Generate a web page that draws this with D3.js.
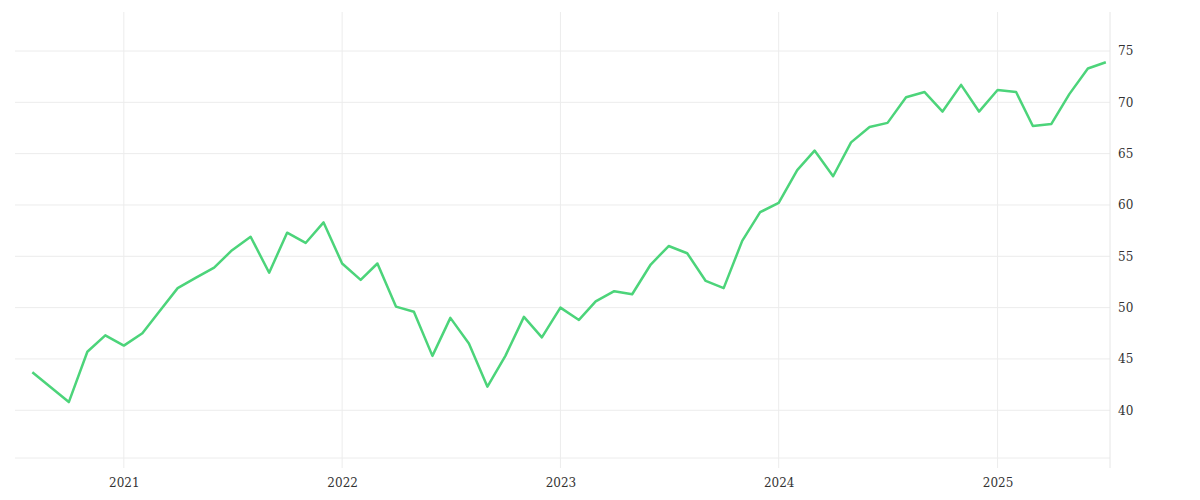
<!DOCTYPE html>
<html>
<head>
<meta charset="utf-8">
<script src="https://cdn.jsdelivr.net/npm/d3@7"></script>
<style>
  body { margin: 0; background: #fff; }
  .axis text { font-family: "DejaVu Serif", serif; font-size: 12px; fill: #333; }
</style>
</head>
<body>
<div id="viz"></div>
<script>
// monthly values, Aug 2020 .. Jul 2025 (Sep 2020 missing)
var dates = ['2020-08','2020-10','2020-11','2020-12',
  '2021-01','2021-02','2021-03','2021-04','2021-05','2021-06','2021-07','2021-08','2021-09','2021-10','2021-11','2021-12',
  '2022-01','2022-02','2022-03','2022-04','2022-05','2022-06','2022-07','2022-08','2022-09','2022-10','2022-11','2022-12',
  '2023-01','2023-02','2023-03','2023-04','2023-05','2023-06','2023-07','2023-08','2023-09','2023-10','2023-11','2023-12',
  '2024-01','2024-02','2024-03','2024-04','2024-05','2024-06','2024-07','2024-08','2024-09','2024-10','2024-11','2024-12',
  '2025-01','2025-02','2025-03','2025-04','2025-05','2025-06','2025-07'];
var values = [43.7,40.8,45.7,47.3,
  46.3,47.5,49.6,51.9,52.9,53.9,55.6,56.9,53.4,57.3,56.3,58.3,
  54.3,52.7,54.3,50.1,49.6,45.3,49.0,46.5,42.3,45.3,49.1,47.1,
  50.0,48.8,50.6,51.6,51.3,54.2,56.0,55.3,52.6,51.9,56.5,59.3,
  60.2,63.4,65.3,62.8,66.1,67.6,68.0,70.5,71.0,69.1,71.7,69.1,
  71.2,71.0,67.7,67.9,70.8,73.3,73.9];
var yTicks = [40,45,50,55,60,65,70,75];
var xTicks = ['2021','2022','2023','2024','2025'];

var parse = d3.timeParse('%Y-%m');
var data = dates.map(function (d, i) { return {date: parse(d), value: values[i]}; });

var svg = d3.select('#viz').append('svg')
  .attr('width', 1200).attr('height', 500);

var x = d3.scaleTime()
  .domain([new Date(2020, 6, 3), new Date(2025, 6, 8)])
  .range([15, 1110]);
var y = d3.scaleLinear().domain([35.35, 78.8]).range([458, 12]);

// grid
svg.append('g').selectAll('line.h')
  .data(yTicks.concat([35.35]))
  .enter().append('line')
  .attr('x1', 15).attr('x2', 1110)
  .attr('y1', function (d) { return y(d); }).attr('y2', function (d) { return y(d); })
  .attr('stroke', '#ececec');
svg.append('g').selectAll('line.v')
  .data(xTicks)
  .enter().append('line')
  .attr('x1', function (d) { return x(new Date(+d, 0, 1)); })
  .attr('x2', function (d) { return x(new Date(+d, 0, 1)); })
  .attr('y1', 12).attr('y2', 468)
  .attr('stroke', '#ececec');

// right axis
svg.append('g')
  .attr('class', 'axis')
  .attr('transform', 'translate(1110,0)')
  .call(d3.axisRight(y).tickValues(yTicks).tickSize(0).tickPadding(8))
  .call(function (g) { g.select('.domain').attr('stroke', '#e6e6e6').attr('d', 'M0,12V468'); });

// bottom axis
svg.append('g')
  .attr('class', 'axis')
  .attr('transform', 'translate(0,468)')
  .call(d3.axisBottom(x)
    .tickValues(xTicks.map(function (d) { return new Date(+d, 0, 1); }))
    .tickFormat(d3.timeFormat('%Y')).tickSize(0).tickPadding(10))
  .call(function (g) { g.select('.domain').remove(); });

svg.append('path')
  .datum(data)
  .attr('fill', 'none')
  .attr('stroke', '#4cd47a')
  .attr('stroke-width', 2.5)
  .attr('stroke-linejoin', 'round')
  .attr('d', d3.line()
    .x(function (d) { return x(d.date); })
    .y(function (d) { return y(d.value); }));
</script>
</body>
</html>
